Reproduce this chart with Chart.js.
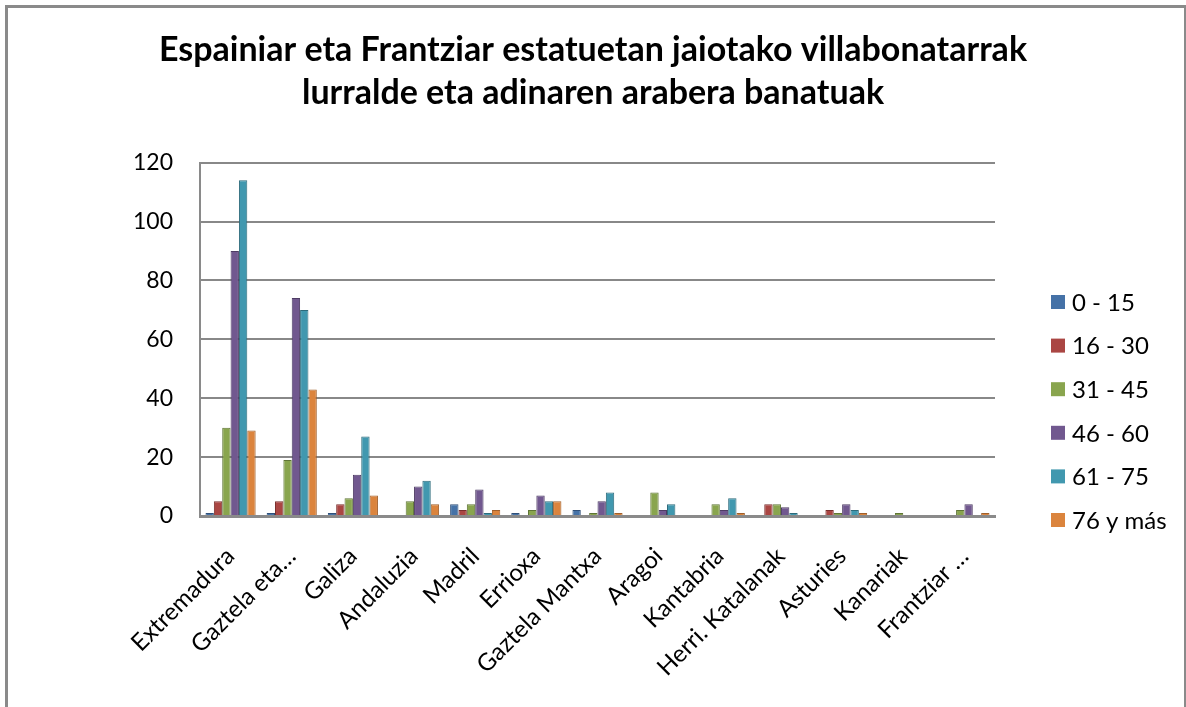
<!DOCTYPE html>
<html>
<head>
<meta charset="utf-8">
<script src="https://cdn.jsdelivr.net/npm/chart.js@4"></script>
<style>
  html, body { margin: 0; padding: 0; background: #fff; }
  #wrap { position: relative; width: 1186px; height: 707px; overflow: hidden; }
  #frame { position: absolute; left: 5px; top: 5px; width: 1176px; height: 760px;
           border: 3px solid #8a8a8a; pointer-events: none; }
</style>
</head>
<body>
<div id="wrap">
  <canvas id="chart" width="1186" height="707"></canvas>
  <div id="frame"></div>
</div>
<script>
// Datuak
const regions = [
  "Extremadura", "Gaztela eta…", "Galiza", "Andaluzia", "Madril", "Errioxa",
  "Gaztela Mantxa", "Aragoi", "Kantabria", "Herri. Katalanak", "Asturies",
  "Kanariak", "Frantziar …"
];
const ageGroups = ["0 - 15", "16 - 30", "31 - 45", "46 - 60", "61 - 75", "76 y más"];
const age0_15   = [1, 1, 1, 0, 4, 1, 2, 0, 0, 0, 0, 0, 0];
const age16_30  = [5, 5, 4, 0, 2, 0, 0, 0, 0, 4, 2, 0, 0];
const age31_45  = [30, 19, 6, 5, 4, 2, 1, 8, 4, 4, 1, 1, 2];
const age46_60  = [90, 74, 14, 10, 9, 7, 5, 2, 2, 3, 4, 0, 4];
const age61_75  = [114, 70, 27, 12, 1, 5, 8, 4, 6, 1, 2, 0, 0];
const age76plus = [29, 43, 7, 4, 2, 5, 1, 0, 1, 0, 1, 0, 1];
const yTicks = [0, 20, 40, 60, 80, 100, 120];

const seriesValues = [age0_15, age16_30, age31_45, age46_60, age61_75, age76plus];
const seriesColors = ["#4572A7", "#AA4643", "#89A54E", "#71588F", "#4198AF", "#DB843D"];
const seriesBorders = ["#2f4f78", "#7a2f2d", "#5f7535", "#4e3c64", "#2d6b7b", "#a05f2a"];

const FONT = "Lato, 'Open Sans', sans-serif";

// Legenda eskuinean
const sideLegend = {
  id: "sideLegend",
  afterDraw(chart) {
    const ctx = chart.ctx;
    ctx.save();
    ctx.font = "24px " + FONT;
    ctx.textBaseline = "middle";
    ctx.textAlign = "left";
    chart.data.datasets.forEach((ds, i) => {
      const cy = 302 + i * 43.6;
      ctx.fillStyle = ds.backgroundColor;
      ctx.fillRect(1051, cy - 7, 14, 14);
      ctx.fillStyle = "#000";
      ctx.fillText(ds.label, 1072, cy + 1);
    });
    ctx.restore();
  },
};

new Chart(document.getElementById("chart").getContext("2d"), {
  type: "bar",
  data: {
    labels: regions,
    datasets: ageGroups.map((g, i) => ({
      label: g,
      data: seriesValues[i],
      yAxisID: "y",
      backgroundColor: seriesColors[i],
      borderColor: seriesBorders[i],
      borderWidth: 1,
      categoryPercentage: 0.82,
      barPercentage: 1.0,
    })),
  },
  options: {
    responsive: false,
    animation: false,
    layout: { padding: 0 },
    plugins: {
      legend: { display: false },
      tooltip: { enabled: false },
      title: {
        display: true,
        text: [
          "Espainiar eta Frantziar estatuetan jaiotako villabonatarrak",
          "lurralde eta adinaren arabera banatuak",
        ],
        color: "#000",
        font: { family: FONT, size: 34, weight: "bold", lineHeight: 1.26 },
        padding: { top: 29, bottom: 48 },
      },
    },
    scales: {
      x: {
        grid: { display: false, drawTicks: false },
        border: { display: true, color: "#8a8a8a", width: 3 },
        ticks: {
          color: "#000",
          font: { family: FONT, size: 24 },
          maxRotation: 45,
          minRotation: 45,
          autoSkip: false,
          padding: 26,
        },
        afterFit: (axis) => { axis.height = 191; },
      },
      y: {
        min: 0,
        max: 120,
        afterBuildTicks: (axis) => { axis.ticks = yTicks.map((v) => ({ value: v })); },
        grid: { color: "#888888", lineWidth: 2, drawTicks: false },
        border: { display: true, color: "#8a8a8a", width: 2 },
        ticks: {
          color: "#000",
          font: { family: FONT, size: 23 },
          padding: 27,
        },
        afterFit: (axis) => { axis.width = 200; },
      },
      // tokia legendarentzat
      legendSpace: {
        type: "linear",
        axis: "y",
        position: "right",
        grid: { display: false, drawTicks: false },
        border: { display: false },
        ticks: { display: false },
        afterFit: (axis) => { axis.width = 191; },
      },
    },
  },
  plugins: [sideLegend],
});
</script>
</body>
</html>
